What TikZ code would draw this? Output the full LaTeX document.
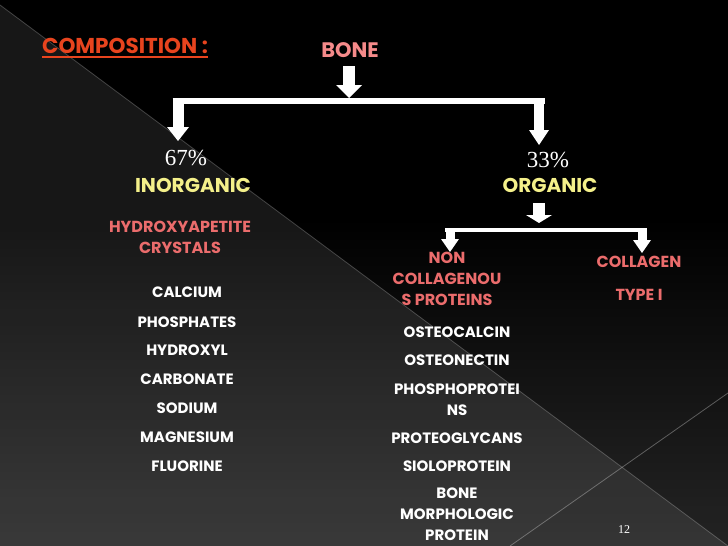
\documentclass[tikz,border=0pt]{standalone}
\usepackage{fontspec}
\setmainfont{Poppins}
\newfontfamily\numfont{Liberation Serif}
\usetikzlibrary{arrows.meta,calc}
\definecolor{compred}{HTML}{E8441E}
\definecolor{bonepink}{HTML}{F58A8A}
\definecolor{headyel}{HTML}{F4F08A}
\definecolor{salmon}{HTML}{EB6C6C}
\pgfdeclareverticalshading{slidebg}{100bp}{color(0bp)=(black!66!white); color(25bp)=(black!85!white); color(55bp)=(black); color(100bp)=(black)}
\tikzset{
  txt/.style={inner sep=0pt, align=center, font=\bfseries},
  title/.style={txt, text=compred, font=\bfseries\fontsize{21.5}{24}\selectfont},
  bonestyle/.style={txt, text=bonepink, font=\bfseries\fontsize{21}{24}\selectfont},
  head/.style={txt, text=headyel, font=\bfseries\fontsize{20}{23}\selectfont},
  sub/.style={txt, text=salmon, font=\bfseries\fontsize{16}{21}\selectfont},
  item/.style={txt, text=white, font=\bfseries\fontsize{15}{21}\selectfont},
  pct/.style={inner sep=0pt, text=white, font=\numfont\fontsize{23}{26}\selectfont},
  blk/.style={draw=white, line width=#1},
  bar/.style={draw=white, line width=#1},
}
\begin{document}
\begin{tikzpicture}[x=1pt,y=-1pt]
\useasboundingbox (0,0) rectangle (728,546);
% background
\shade[shading=slidebg] (0,0) rectangle (728,546);
\fill[white, opacity=0.09] (0,5) -- (728,546) -- (0,546) -- cycle;
\fill[black, opacity=0.06] (510,546) -- (728,393) -- (728,546) -- cycle;
\draw[white, opacity=0.22, line width=0.8pt] (0,5) -- (728,546);
\draw[white, opacity=0.3, line width=0.8pt] (510,546) -- (728,393);

% title
\node[title, anchor=west] (comp) at (42,46) {COMPOSITION :};
\draw[compred, line width=1.3pt] ($(comp.south west)+(0,3)$) -- ($(comp.south east)+(0,3)$);
\node[bonestyle] (bone) at (350,50) {BONE};

% level 1
\node[pct] (p67) at (186,158) {67\%};
\node[head] (inorg) at (193,185) {INORGANIC};
\node[pct] (p33) at (548,160) {33\%};
\node[head] (org) at (550,185) {ORGANIC};

% connectors level 1
\coordinate (j1s) at (349,66);
\coordinate (j1) at (349,98);
\coordinate (barL) at (172.5,101);
\coordinate (barR) at (544.5,101);
\coordinate (bl) at (178,98);
\coordinate (br) at (539,98);
\coordinate (tl) at (178,141);
\coordinate (tr) at (539,145);
\draw[blk=12pt, -{Triangle[width=26pt,length=13pt,line width=0pt]}] (j1s) -- (j1);
\draw[bar=6pt] (barL) -- (barR);
\draw[blk=11pt, -{Triangle[width=22pt,length=14pt,line width=0pt]}] (bl) -- (tl);
\draw[blk=10pt, -{Triangle[width=20pt,length=15pt,line width=0pt]}] (br) -- (tr);

% inorganic column
\node[sub] (hydro) at (180,237) {HYDROXYAPETITE\\CRYSTALS};
\node[item] (ca) at (187,292) {CALCIUM};
\node[item] (ph) at (187,322) {PHOSPHATES};
\node[item] (hy) at (187,350) {HYDROXYL};
\node[item] (cb) at (187,379) {CARBONATE};
\node[item] (na) at (187,408) {SODIUM};
\node[item] (mg) at (187,437) {MAGNESIUM};
\node[item] (fl) at (187,466) {FLUORINE};

% organic sub-branches
\coordinate (j2s) at (539,203);
\coordinate (j2) at (539,223);
\coordinate (bar2L) at (445,229.5);
\coordinate (bar2R) at (647,229.5);
\coordinate (bl2) at (450,228);
\coordinate (br2) at (642,228);
\coordinate (tl2) at (450,252);
\coordinate (tr2) at (642,253);
\draw[blk=12pt, -{Triangle[width=26pt,length=8pt,line width=0pt]}] (j2s) -- (j2);
\draw[bar=4pt] (bar2L) -- (bar2R);
\draw[blk=9pt, -{Triangle[width=18pt,length=13pt,line width=0pt]}] (bl2) -- (tl2);
\draw[blk=9pt, -{Triangle[width=18pt,length=13pt,line width=0pt]}] (br2) -- (tr2);

\node[sub] (ncp) at (447,279) {NON\\COLLAGENOU\\S PROTEINS};
\node[sub] (col) at (639,262) {COLLAGEN};
\node[sub] (typ) at (639,295) {TYPE I};

\node[item] (oc) at (457,332) {OSTEOCALCIN};
\node[item] (on) at (457,360) {OSTEONECTIN};
\node[item] (pp) at (457,400) {PHOSPHOPROTEI\\NS};
\node[item] (pg) at (457,438) {PROTEOGLYCANS};
\node[item] (sp) at (457,466) {SIOLOPROTEIN};
\node[item] (bmp) at (457,514) {BONE\\MORPHOLOGIC\\PROTEIN};

\node[inner sep=0pt, text=white, font=\numfont\fontsize{12}{14}\selectfont] (num) at (624,530) {12};
\end{tikzpicture}
\end{document}
